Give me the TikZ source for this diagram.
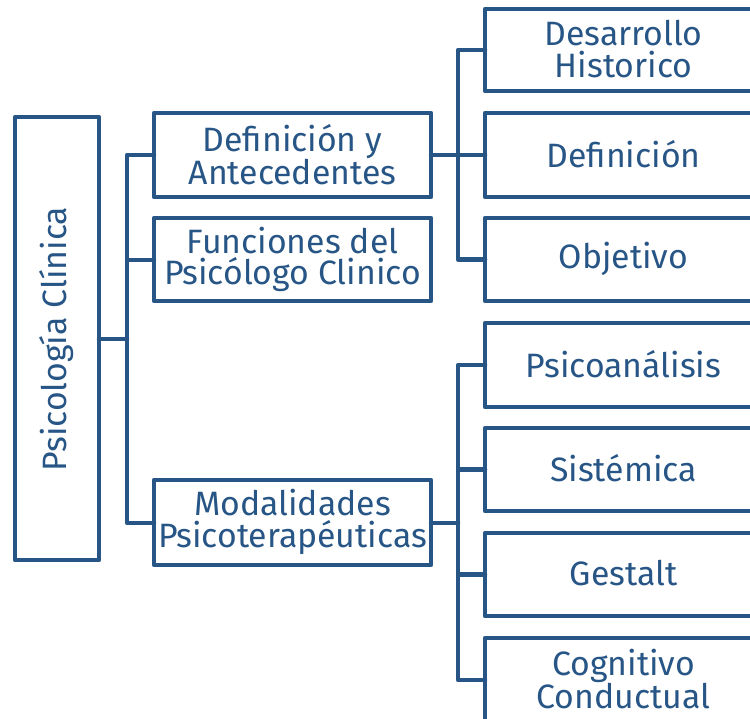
\documentclass[tikz,border=0pt]{standalone}
\usepackage{fontspec}
\setmainfont{Fira Sans}
\definecolor{navy}{RGB}{39,86,134}
\begin{document}
\begin{tikzpicture}[x=1pt,y=-1pt,
  box/.style={draw=navy, line width=4.5pt, line join=round, rectangle, inner sep=0pt},
  lbl/.style={text=navy, font=\fontsize{33.8}{31.5}\selectfont, align=center},
  link/.style={draw=navy, line width=4.5pt, line join=round, line cap=round}]
\useasboundingbox (0,0) rectangle (750,719);
\clip (0,0) rectangle (750,719);
% root
\draw[box] (15,117) rectangle (99,560);
\node[lbl, rotate=90] (root) at (57,339) {Psicología Clínica};
\coordinate (rootR) at (99,339);
% level 2
\draw[box] (154,113) rectangle (431,197);
\node[lbl] (def) at (292.5,154.5) {Definición y\\Antecedentes};
\draw[box] (154,218) rectangle (431,301);
\node[lbl] (fun) at (292.5,259.5) {Funciones del\\Psicólogo Clinico};
\draw[box] (154,480) rectangle (431,565);
\node[lbl] (mod) at (292.5,522) {Modalidades\\Psicoterapéuticas};
\coordinate (defL) at (154,155);
\coordinate (funL) at (154,260);
\coordinate (modL) at (154,523);
\coordinate (defR) at (431,155);
\coordinate (modR) at (431,523);
% level 3
\foreach \name/\top/\bot/\txt in {
  dh/9/91/{Desarrollo\\Historico},
  dn/113/197/{Definición},
  ob/218/301/{Objetivo},
  ps/323/407/{Psicoanálisis},
  si/428/511/{Sistémica},
  ge/533/616/{Gestalt},
  cc/638/722/{Cognitivo\\Conductual}}{
  \draw[box] (485,\top) rectangle (762,\bot);
  \node[lbl] (\name) at (623.5,{(\top+\bot)/2-1}) {\txt};
  \coordinate (\name L) at (485,{(\top+\bot)/2});
}
% connectors
\coordinate (j1) at (127,339);
\draw[link] (rootR) -- (j1);
\draw[link] (defL) -| (127,339) |- (modL);
\draw[link] (j1) |- (funL);
\coordinate (j2) at (458,155);
\draw[link] (defR) -- (j2);
\draw[link] (dhL) -| (458,155) |- (obL);
\draw[link] (j2) -- (dnL);
\coordinate (j3) at (458,523);
\draw[link] (modR) -- (j3);
\draw[link] (psL) -| (458,523) |- (ccL);
\draw[link] (458,470) |- (siL);
\draw[link] (j3) |- (geL);
\end{tikzpicture}
\end{document}
